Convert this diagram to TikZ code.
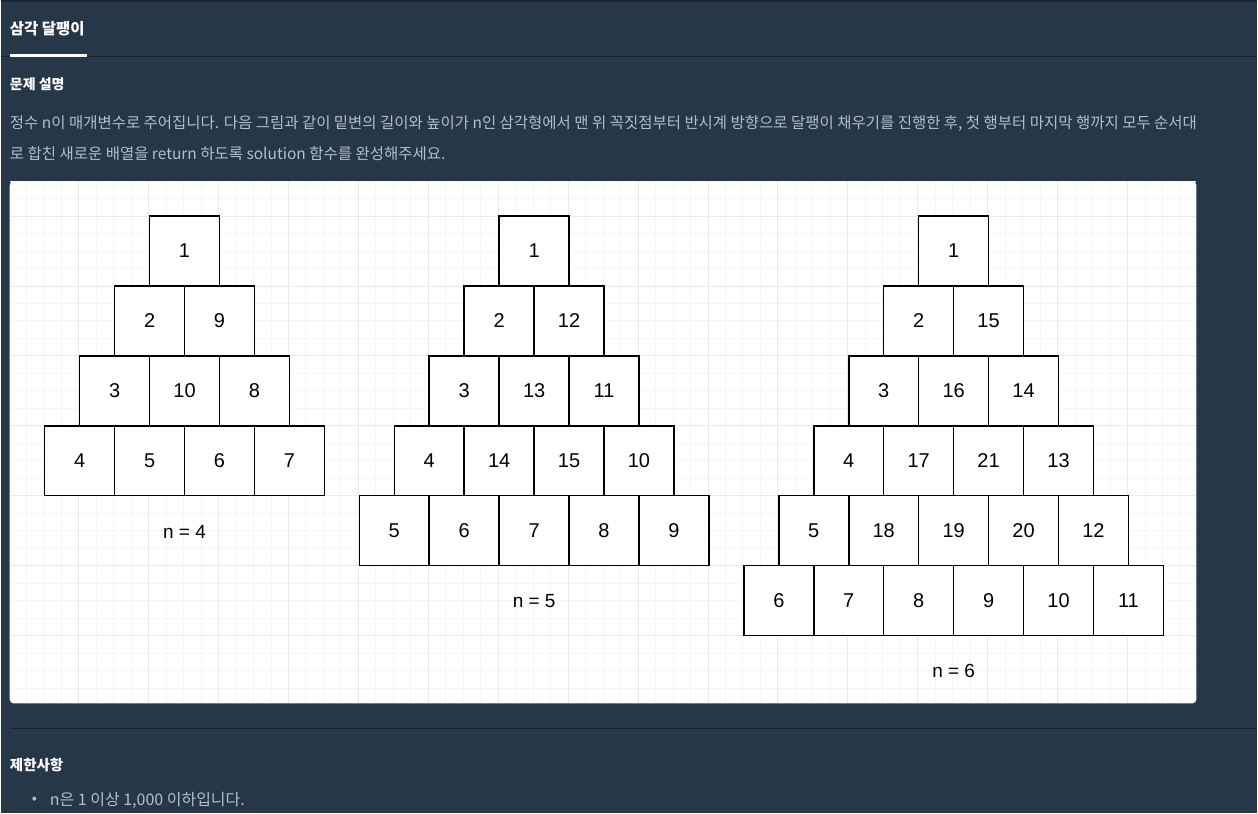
\documentclass[tikz,border=0pt]{standalone}
\usepackage{fontspec}
\setmainfont{Noto Sans CJK KR}
\newfontfamily\arialfont{Liberation Sans}
\usepackage{tikz}
\usetikzlibrary{positioning}

\definecolor{pagebg}{HTML}{263747}
\definecolor{rulecol}{HTML}{172130}
\definecolor{bodytext}{HTML}{B2BFCB}
\definecolor{minorgrid}{HTML}{F5F5F5}
\definecolor{majorgrid}{HTML}{EAEAEA}

\begin{document}
\begin{tikzpicture}[x=1pt, y=-1pt,
  cell/.style={draw=black, line width=1.5pt, fill=white, minimum size=70pt,
    inner sep=0pt, font=\arialfont\fontsize{20}{20}\selectfont},
  caption/.style={font=\arialfont\fontsize{19}{19}\selectfont},
  heading/.style={anchor=west, inner sep=0pt, text=white,
    font=\bfseries\fontsize{14}{14}\selectfont},
  para/.style={anchor=west, inner sep=0pt, text=bodytext,
    font=\fontsize{15.5}{15.5}\selectfont}]

 % page
 \fill[pagebg] (0,0) rectangle (1258,814);
 \draw[rulecol, line width=1.5pt] (0,0.5) -- (1258,0.5);
 \draw[rulecol, line width=1pt] (0,56.5) -- (1258,56.5);
 \draw[white, line width=3pt] (9,55) -- (86,55);
 \node[heading, font=\bfseries\fontsize{15.5}{15.5}\selectfont] (tab) at (9,28) {삼각 달팽이};
 \node[heading] (desc) at (9,84) {문제 설명};
 \node[para] (line1) at (9,123) {정수 n이 매개변수로 주어집니다. 다음 그림과 같이 밑변의 길이와 높이가 n인 삼각형에서 맨 위 꼭짓점부터 반시계 방향으로 달팽이 채우기를 진행한 후, 첫 행부터 마지막 행까지 모두 순서대};
 \node[para] (line2) at (9,154) {로 합친 새로운 배열을 return 하도록 solution 함수를 완성해주세요.};

 % panel with grid
 \fill[white, rounded corners=4pt] (9,181) rectangle (1197,704);
 \begin{scope}
  \clip (9,181) rectangle (1197,704);
  \foreach \gx in {0,17.5,...,1190}
   \draw[minorgrid, line width=0.8pt] (8+\gx,181) -- (8+\gx,704);
  \foreach \gy in {0,17.5,...,523}
   \draw[minorgrid, line width=0.8pt] (9,181+\gy) -- (1197,181+\gy);
  \foreach \gx in {0,70,...,1190}
   \draw[majorgrid, line width=0.8pt] (8+\gx,181) -- (8+\gx,704);
  \foreach \gy in {35,105,...,523}
   \draw[majorgrid, line width=0.8pt] (9,181+\gy) -- (1197,181+\gy);
 \end{scope}

 % triangles
 \foreach \tri/\left/\rows in {
   4/149/{{1},{2,9},{3,10,8},{4,5,6,7}},
   5/499/{{1},{2,12},{3,13,11},{4,14,15,10},{5,6,7,8,9}},
   6/919/{{1},{2,15},{3,16,14},{4,17,21,13},{5,18,19,20,12},{6,7,8,9,10,11}}}{
  \foreach \row [count=\r] in \rows {
   \foreach \val [count=\c] in \row
    \node[cell] (t\tri-\r-\c) at (\left+35-35*\r+70*\c-35, 216+70*\r-35) {\val};
  }
  \node[caption] (cap\tri) at (\left+35, 216+70*\tri+36) {n = \tri};
 }

 % constraints
 \draw[rulecol, line width=1pt] (9,729.5) -- (1258,729.5);
 \node[heading, font=\bfseries\fontsize{14.5}{14.5}\selectfont] (limits) at (9,766) {제한사항};
 \node[para, font=\fontsize{15}{15}\selectfont] (bullet) at (31,801) {•};
 \node[para, font=\fontsize{16}{16}\selectfont] (limit1) at (49,801) {n은 1 이상 1,000 이하입니다.};
\end{tikzpicture}
\end{document}
